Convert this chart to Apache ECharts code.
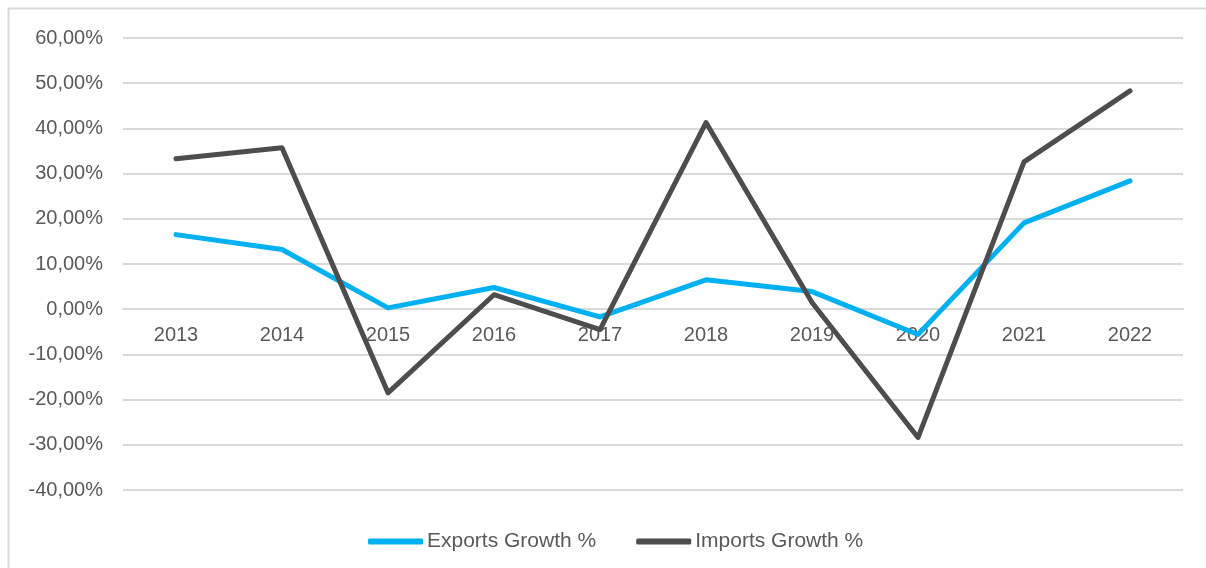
<!DOCTYPE html>
<html>
<head>
<meta charset="utf-8">
<script src="https://cdn.jsdelivr.net/npm/echarts@6/dist/echarts.min.js"></script>
<style>
html,body{margin:0;padding:0;background:#fff;}
#chart{width:1206px;height:568px;}
</style>
</head>
<body>
<div id="chart"></div>
<script>
var years = ['2013','2014','2015','2016','2017','2018','2019','2020','2021','2022'];
var exportsGrowth = [16.5, 13.2, 0.3, 4.8, -1.7, 6.5, 3.9, -5.6, 19.1, 28.4];
var importsGrowth = [33.3, 35.7, -18.5, 3.2, -4.5, 41.3, 1.5, -28.4, 32.6, 48.3];
var seriesNames = ['Exports Growth %', 'Imports Growth %'];

var chart = echarts.init(document.getElementById('chart'), null, {renderer:'canvas'});
var font = '"Liberation Sans", Arial, sans-serif';
var gridTop = 38, gridBottom = 78, yMin = -40, yMax = 60;
var plotH = 568 - gridTop - gridBottom;
var zeroOffset = plotH * (0 - yMin) / (yMax - yMin);
chart.setOption({
  animation: false,
  backgroundColor: '#ffffff',
  graphic: [
    {type:'rect', shape:{x:8.5, y:8.5, width:1400, height:800}, style:{fill:'none', stroke:'#d9d9d9', lineWidth:2}, z:-1}
  ],
  grid: {left:123, right:23, top:gridTop, bottom:gridBottom, containLabel:false},
  legend: {
    top: 526,
    left: 363,
    itemWidth: 55,
    itemHeight: 6,
    itemGap: 40,
    icon: 'roundRect',
    textStyle: {fontFamily: font, fontSize: 21, color: '#595959', padding:[0,0,0,-1]},
    data: seriesNames
  },
  xAxis: {
    type: 'category',
    data: years,
    boundaryGap: true,
    position: 'bottom',
    offset: -zeroOffset,
    z: 0,
    axisLine: {show:true, onZero:false, lineStyle:{color:'#d9d9d9', width:2}},
    axisTick: {show:false},
    axisLabel: {fontFamily: font, fontSize: 20, color: '#595959', margin: 16}
  },
  yAxis: {
    type: 'value',
    min: yMin, max: yMax, interval: 10,
    axisLine: {show:false},
    axisTick: {show:false},
    splitLine: {lineStyle:{color:'#d9d9d9', width:2}},
    axisLabel: {
      fontFamily: font, fontSize: 20, color: '#595959', margin: 20,
      formatter: function(v){ return v.toFixed(2).replace('.', ',') + '%'; }
    }
  },
  series: [
    {name: seriesNames[0], type:'line', data: exportsGrowth, symbol:'none', z: 5,
     lineStyle:{color:'#00b0f0', width:5, cap:'round', join:'round'}, itemStyle:{color:'#00b0f0'}},
    {name: seriesNames[1], type:'line', data: importsGrowth, symbol:'none', z: 6,
     lineStyle:{color:'#4d4d4d', width:5, cap:'round', join:'round'}, itemStyle:{color:'#4d4d4d'}}
  ]
});
</script>
</body>
</html>
